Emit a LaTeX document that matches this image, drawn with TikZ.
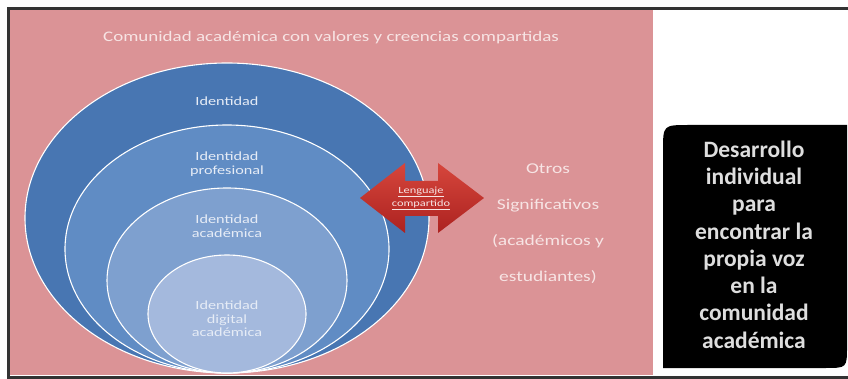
\documentclass[tikz,border=0pt]{standalone}
\usepackage{fontspec}
\setmainfont[FakeStretch=1.3]{Carlito}
\newfontfamily\boxfont{Carlito}
\usetikzlibrary{shapes.geometric}
\definecolor{pinkbg}{RGB}{219,147,150}
\definecolor{bA}{RGB}{72,118,178}
\definecolor{bB}{RGB}{96,140,196}
\definecolor{bC}{RGB}{126,160,207}
\definecolor{bD}{RGB}{164,185,221}
\definecolor{arrtop}{RGB}{214,70,60}
\definecolor{arrbot}{RGB}{172,34,32}
\definecolor{ltxt}{RGB}{247,228,228}
\definecolor{etxt}{RGB}{230,236,246}
\definecolor{boxtxt}{RGB}{222,222,222}
\tikzset{
  ring/.style={ellipse, draw=white, line width=1.1pt, inner sep=0pt},
  lab/.style={text=etxt, align=center, font=\fontsize{12.5}{14}\selectfont},
  side/.style={text=ltxt, align=center, font=\fontsize{15}{36}\selectfont},
}
\begin{document}
\begin{tikzpicture}[x=1pt,y=-1pt]
\useasboundingbox (0,0) rectangle (848,379);
\fill[white] (0,0) rectangle (848,379);
\fill[pinkbg] (10,10) rectangle (653,375);
\draw[black!80, line width=2.5pt] (848,8.5) -- (8.5,8.5) -- (8.5,377.5) -- (848,377.5);

% nested ellipses
\node[ring, fill=bA, minimum width=404pt, minimum height=310pt] (e1) at (227,218) {};
\node[ring, fill=bB, minimum width=324pt, minimum height=248pt] (e2) at (227,249) {};
\node[ring, fill=bC, minimum width=240pt, minimum height=185pt] (e3) at (227,280.5) {};
\node[ring, fill=bD, minimum width=158pt, minimum height=118pt] (e4) at (227,314) {};

\node[lab] (t1) at (227,101) {Identidad};
\node[lab] (t2) at (227,164) {Identidad\\profesional};
\node[lab] (t3) at (227,226) {Identidad\\académica};
\node[lab, font=\fontsize{12.5}{13.5}\selectfont] (t4) at (227,319) {Identidad\\digital\\académica};

% title
\node[text=ltxt, font=\fontsize{14.6}{16}\selectfont] (title) at (331,38) {Comunidad académica con valores y creencias compartidas};

% double arrow
\shade[top color=arrtop, bottom color=arrbot]
  (360,198) -- (405,163) -- (405,181) -- (438,181) -- (438,163) -- (484,198)
  -- (438,233) -- (438,216) -- (405,216) -- (405,233) -- cycle;
\node[text=ltxt, align=center, font=\fontsize{9.5}{13}\selectfont] (lc) at (421,198)
  {\underline{Lenguaje}\\\underline{compartido}};

% others
\node[side] (otros) at (548,224) {Otros\\Significativos\\(académicos y\\estudiantes)};

% black box
\fill[black] (663,368) -- (663,151) .. controls (663,125) .. (689,125) -- (847,125)
  -- (847,346) .. controls (847,368) .. (825,368) -- cycle;
\node[text=boxtxt, align=center, font=\boxfont\bfseries\fontsize{23.5}{27.3}\selectfont] (box) at (754,244.5)
  {Desarrollo\\individual\\para\\encontrar la\\propia voz\\en la\\comunidad\\académica};
\end{tikzpicture}
\end{document}
